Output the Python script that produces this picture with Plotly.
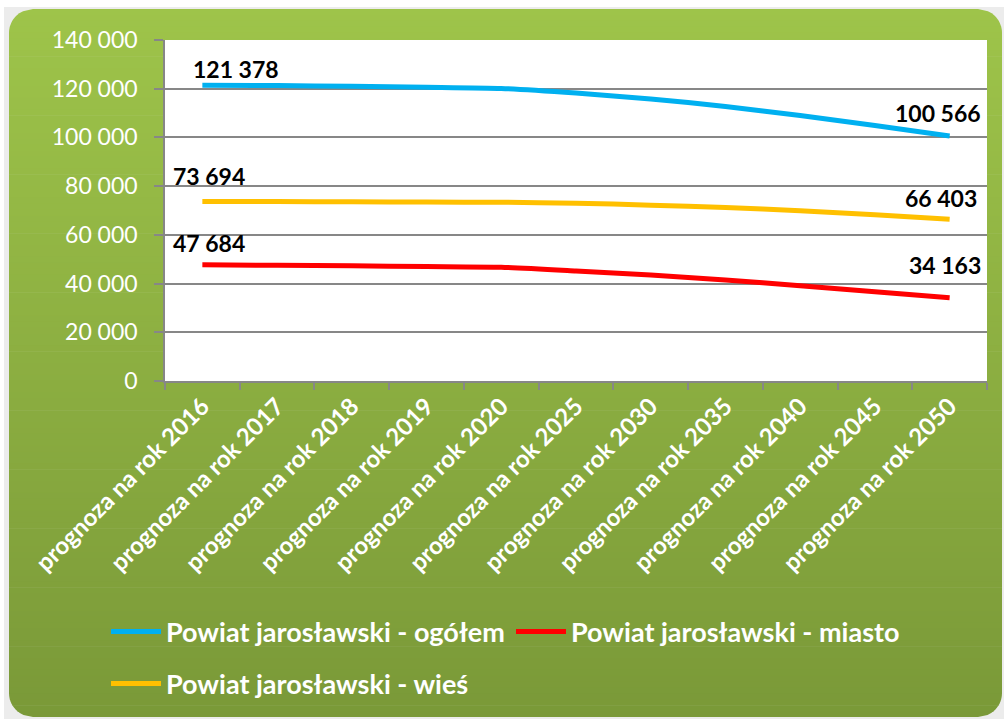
import math
import plotly.graph_objects as go

categories = ["prognoza na rok 2016", "prognoza na rok 2017", "prognoza na rok 2018",
              "prognoza na rok 2019", "prognoza na rok 2020", "prognoza na rok 2025",
              "prognoza na rok 2030", "prognoza na rok 2035", "prognoza na rok 2040",
              "prognoza na rok 2045", "prognoza na rok 2050"]
ogolem = [121378, 121300, 121000, 120600, 120100, 118200, 115800, 112700, 109000, 104900, 100566]
miasto = [47684, 47500, 47300, 47000, 46700, 45200, 43500, 41500, 39100, 36600, 34163]
wies = [73694, 73650, 73550, 73450, 73400, 73000, 72200, 71200, 69900, 68300, 66403]
series_names = ["Powiat jarosławski - ogółem", "Powiat jarosławski - miasto", "Powiat jarosławski - wieś"]
y_ticks = [0, 20000, 40000, 60000, 80000, 100000, 120000, 140000]

W, H = 1004, 719
PL, PR, PT, PB = 165, 987, 40, 381  # plot area in pixels

def px(x):
    return (x - PL) / (PR - PL)

def py(y):
    return (PB - y) / (PB - PT)

def fmt(v):
    return f"{v:,}".replace(",", " ")

fig = go.Figure()
colors = ["#00B0F0", "#FF0000", "#FFC000"]
legends = ["legend", "legend", "legend2"]
for name, vals, col, lg in zip(series_names, [ogolem, miasto, wies], colors, legends):
    fig.add_trace(go.Scatter(x=categories, y=vals, name=name, mode="lines", legend=lg,
                             line=dict(color=col, width=5, shape="spline", smoothing=0.6)))

# background: rounded box with vertical gradient
BX0, BX1, BY0, BY1 = 9, 1002, 9, 717
R = 24
top_col = (158, 196, 74)
bot_col = (122, 153, 56)

def inset(y):
    if y < BY0 + R:
        dy = BY0 + R - y
        return R - math.sqrt(max(R * R - dy * dy, 0))
    if y > BY1 - R:
        dy = y - (BY1 - R)
        return R - math.sqrt(max(R * R - dy * dy, 0))
    return 0

shapes = []
shapes.append(dict(type="rect", xref="paper", yref="paper", x0=px(BX0 - 5), x1=px(BX1 + 2),
                   y0=py(BY1 + 2), y1=py(BY0 - 2), fillcolor="#ececec", line=dict(width=0), layer="below"))
N = 120
step = (BY1 - BY0) / N
for i in range(N):
    ya = BY0 + i * step
    yb = min(BY0 + (i + 1) * step + 0.6, BY1)
    sub = 3
    left, right = [], []
    for k in range(sub + 1):
        yy = ya + (yb - ya) * k / sub
        ins = inset(yy)
        left.append((BX0 + ins, yy))
        right.append((BX1 - ins, yy))
    poly = left + right[::-1]
    path = "M " + " L ".join(f"{px(x):.5f},{py(y):.5f}" for x, y in poly) + " Z"
    t = (i + 0.5) / N
    c = tuple(int(round(top_col[j] + (bot_col[j] - top_col[j]) * t)) for j in range(3))
    shapes.append(dict(type="path", xref="paper", yref="paper", path=path,
                       fillcolor=f"rgb{c}", line=dict(width=0), layer="below"))
shapes.append(dict(type="rect", xref="paper", yref="paper", x0=0, x1=1, y0=0, y1=1,
                   fillcolor="white", line=dict(width=0), layer="below"))

annotations = []
label_specs = [
    (ogolem, 0, 34, 16), (ogolem, 10, -12, 23),
    (wies, 0, 7, 26), (wies, 10, -9, 21),
    (miasto, 0, 7, 22), (miasto, 10, -5, 33),
]
for vals, idx, xs, ys in label_specs:
    annotations.append(dict(x=categories[idx], y=vals[idx], xref="x", yref="y",
                            text="<b>" + fmt(vals[idx]) + "</b>", showarrow=False, xshift=xs, yshift=ys,
                            font=dict(family="Lato", size=23, color="black")))

legend_font = dict(family="Lato", size=27, color="white", weight="bold")
fig.update_layout(
    width=W, height=H,
    margin=dict(l=PL, r=W - PR, t=PT, b=H - PB, autoexpand=False),
    paper_bgcolor="white",
    plot_bgcolor="rgba(0,0,0,0)",
    separators=", ",
    shapes=shapes,
    annotations=annotations,
    showlegend=True,
    legend=dict(orientation="h", x=px(106), y=py(632), xanchor="left", yanchor="middle",
                font=legend_font, bgcolor="rgba(0,0,0,0)", itemwidth=50,
                entrywidth=340, entrywidthmode="pixels"),
    legend2=dict(orientation="h", x=px(106), y=py(684), xanchor="left", yanchor="middle",
                 font=legend_font, bgcolor="rgba(0,0,0,0)", itemwidth=50),
    xaxis=dict(type="category", range=[-0.5, 10.5], tickson="boundaries", ticks="outside",
               ticklen=7, tickcolor="#878787", tickwidth=1.5, showline=True, linecolor="#878787",
               linewidth=1.5, showgrid=False, tickangle=-45,
               tickvals=categories, ticktext=["<b>" + c + "</b>" for c in categories],
               tickfont=dict(family="Lato", size=24, color="white")),
    yaxis=dict(range=[0, 140000], tickvals=y_ticks, tickformat=",d", ticks="outside", ticklen=9,
               tickcolor="#878787", tickwidth=1.5, showline=True, linecolor="#878787", linewidth=1.5,
               gridcolor="#878787", gridwidth=1.5, zeroline=False, ticklabelstandoff=12,
               tickfont=dict(family="Lato", size=23, color="white")),
)

fig.write_html("out.html", config={"displayModeBar": False},
               post_script="document.body.style.margin='0';")
